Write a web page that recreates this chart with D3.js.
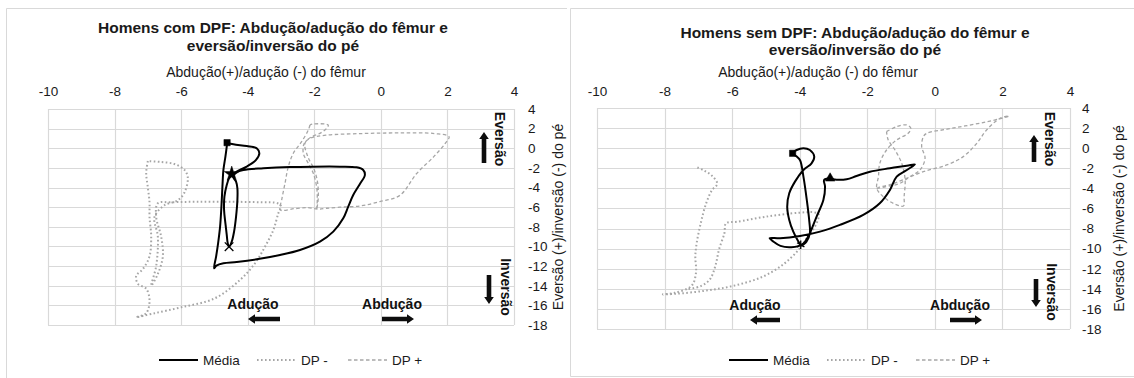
<!DOCTYPE html>
<html>
<head>
<meta charset="utf-8">
<script src="https://cdn.jsdelivr.net/npm/d3@7"></script>
<style>
  body { margin: 0; background: #fff; }
  svg { display: block; font-family: "Liberation Sans", Arial, sans-serif; }
</style>
</head>
<body>
<svg id="chart" width="1134" height="378"></svg>
<script>
/*
  two Excel-like xy charts: femur abduction vs foot eversion
*/

// axis ticks
var xTicks = [-10, -8, -6, -4, -2, 0, 2, 4];
var yTicks = [4, 2, 0, -2, -4, -6, -8, -10, -12, -14, -16, -18];

var titles = [
  ["Homens com DPF: Abdução/adução do fêmur e", "eversão/inversão do pé"],
  ["Homens sem DPF: Abdução/adução do fêmur e", "eversão/inversão do pé"]
];
var xTitle = "Abdução(+)/adução (-) do fêmur";
var yTitle = "Eversão (+)/inversão (-) do pé";
var seriesNames = ["Média", "DP -", "DP +"];

// left chart (com DPF) - [abdução, eversão]
var comMedia = [
  [-4.62,0.57],[-4.63,0.17],[-4.67,-0.85],[-4.73,-2.21],[-4.76,-3.91],[-4.79,-5.94],[-4.83,-7.98],
  [-4.89,-9.68],[-4.95,-11.04],[-5.01,-12.22],[-4.94,-11.95],[-4.73,-11.71],[-4.33,-11.58],[-3.73,-11.31],
  [-3.03,-10.87],[-2.43,-10.36],[-1.83,-9.51],[-1.43,-8.49],[-1.13,-7.13],[-0.98,-5.94],[-0.83,-4.76],
  [-0.63,-3.64],[-0.48,-2.72],[-0.53,-2.21],[-0.73,-1.94],[-1.23,-1.87],[-2.03,-1.87],[-2.73,-1.91],
  [-3.53,-2.04],[-4.13,-2.21],[-4.38,-2.48],[-4.48,-2.62],[-4.55,-2.96],[-4.63,-3.74],[-4.70,-4.93],
  [-4.71,-6.28],[-4.67,-7.64],[-4.63,-8.83],[-4.60,-9.68],[-4.56,-10.02],[-4.48,-9.51],[-4.41,-8.49],
  [-4.35,-6.96],[-4.31,-5.27],[-4.31,-4.08],[-4.35,-3.40],[-4.43,-2.96],[-4.40,-2.60],[-4.33,-2.38],
  [-4.03,-1.87],[-3.75,-1.19],[-3.65,-0.51],[-3.73,0.0],[-4.03,0.23],[-4.43,0.40],[-4.62,0.57]
];
var comDPmenos = [
  [-7.0,-1.3],[-7.05,-2.5],[-7.0,-4.0],[-6.95,-5.5],[-6.95,-7.0],[-6.9,-9.0],[-6.95,-11.0],[-7.15,-12.3],
  [-7.35,-13.0],[-7.3,-13.8],[-7.05,-14.3],[-6.95,-15.5],[-7.05,-16.8],[-7.35,-17.2],[-6.8,-16.8],
  [-6.0,-16.2],[-5.0,-15.3],[-4.23,-13.41],[-3.78,-11.71],[-3.48,-10.02],[-3.23,-8.32],[-3.08,-6.62],
  [-3.0,-5.9],[-3.1,-5.6],[-3.6,-5.5],[-4.5,-5.45],[-5.5,-5.45],[-6.3,-5.5],[-6.7,-5.6],[-6.75,-7.0],
  [-6.6,-9.0],[-6.55,-11.0],[-6.7,-12.8],[-6.9,-14.0],[-6.75,-12.0],[-6.7,-9.0],[-6.8,-7.0],[-6.5,-5.8],
  [-6.1,-5.3],[-5.9,-4.5],[-5.8,-3.0],[-5.9,-2.2],[-6.2,-1.6],[-6.6,-1.4],[-7.0,-1.3]
];
var comDPmais = [
  [-2.13,2.37],[-2.18,1.86],[-2.38,0.67],[-2.63,-0.51],[-2.78,-1.87],[-2.88,-3.57],[-2.98,-5.27],
  [-3.03,-6.28],[-2.6,-6.15],[-2.2,-6.05],[-1.9,-6.2],[-1.63,-6.11],[-1.23,-6.0],[-0.63,-5.88],
  [-0.03,-5.43],[0.57,-4.8],[1.07,-2.6],[1.61,-0.78],[1.94,0.52],[2.05,1.17],[1.61,1.5],[0.52,1.56],
  [-0.56,1.5],[-1.65,1.33],[-2.1,1.05],[-2.3,0.5],[-2.33,-0.51],[-2.18,-1.53],[-2.03,-2.55],
  [-1.93,-3.91],[-1.91,-5.27],[-1.93,-6.28],[-1.88,-5.0],[-1.9,-3.5],[-2.0,-2.2],[-2.2,-0.8],
  [-2.28,0.5],[-2.08,1.18],[-1.83,1.52],[-1.63,2.03],[-1.58,2.37],[-2.03,2.47],[-2.13,2.37]
];
var comMarkers = [
  {shape: "square", x: -4.62, y: 0.57},
  {shape: "star", x: -4.48, y: -2.62},
  {shape: "x", x: -4.56, y: -10.02}
];

// right chart (sem DPF)
var semMedia = [
  [-3.10,-3.0],[-3.01,-3.1],[-2.61,-3.1],[-2.32,-2.77],[-1.92,-2.34],[-1.33,-2.0],[-0.83,-1.74],
  [-0.59,-1.61],[-0.83,-2.17],[-1.13,-2.83],[-1.33,-4.16],[-1.63,-5.49],[-2.12,-6.65],[-2.81,-7.64],
  [-3.40,-8.31],[-3.99,-8.74],[-4.58,-8.97],[-4.89,-8.96],[-4.78,-9.29],[-4.57,-9.72],[-4.25,-9.85],
  [-3.98,-9.62],[-4.04,-9.3],[-4.19,-8.31],[-4.31,-7.14],[-4.37,-5.82],[-4.31,-4.49],[-4.14,-3.33],
  [-3.89,-2.17],[-3.65,-1.51],[-3.57,-0.84],[-3.70,-0.18],[-3.89,0.0],[-4.09,-0.18],[-4.21,-0.51],
  [-4.1,-0.8],[-3.99,-1.2],[-3.89,-2.83],[-3.79,-5.16],[-3.72,-7.15],[-3.70,-8.47],[-3.8,-9.3],
  [-3.95,-9.7],[-3.84,-9.3],[-3.70,-8.47],[-3.50,-6.81],[-3.30,-5.16],[-3.25,-3.83],[-3.28,-3.16],
  [-3.10,-3.0]
];
var semDPmenos = [
  [-7.03,-1.92],[-6.82,-2.24],[-6.6,-2.73],[-6.44,-3.54],[-6.6,-4.19],[-6.77,-5.5],[-6.93,-7.48],
  [-7.05,-9.45],[-7.09,-10.77],[-7.07,-12.41],[-7.2,-13.7],[-7.7,-14.4],[-8.05,-14.55],[-7.68,-14.5],
  [-6.82,-14.2],[-5.96,-13.7],[-5.1,-12.8],[-4.46,-11.5],[-4.03,-10.1],[-3.82,-9.1],[-3.5,-7.48],
  [-3.44,-6.6],[-3.55,-6.4],[-4.03,-6.43],[-5.0,-6.82],[-5.85,-7.32],[-6.18,-7.48],[-6.23,-8.47],
  [-6.39,-10.11],[-6.5,-11.76],[-6.66,-13.07],[-6.93,-13.73],[-7.35,-14.06]
];
var semDPmais = [
  [-1.43,1.65],[-1.13,2.14],[-0.83,2.31],[-0.71,1.98],[-0.79,1.48],[-1.13,0.82],[-1.43,-0.18],
  [-1.63,-1.51],[-1.67,-2.83],[-1.72,-3.99],[-1.53,-4.82],[-1.23,-5.49],[-0.93,-5.75],[-0.91,-4.82],
  [-0.88,-3.16],[-0.98,-1.51],[-1.18,-0.18],[-1.38,0.82],[-1.43,1.65],
  null,
  [-1.72,-3.99],[-1.33,-3.76],[-1.03,-3.5],[-0.74,-2.83],[-0.44,-2.17],[-0.29,-1.01],[-0.39,0.15],
  [-0.34,1.15],[-0.24,1.48],[0.36,1.89],[0.89,2.21],[1.5,2.6],[2.0,3.0],[2.2,3.2],[1.93,2.97],
  [1.53,1.81],[1.24,0.48],[0.84,-0.84],[0.35,-1.67],[-0.34,-2.34],[-0.84,-3.0],[-1.3,-3.6],[-1.67,-3.9]
];
var semMarkers = [
  {shape: "square", x: -4.21, y: -0.51},
  {shape: "triangle", x: -3.10, y: -3.0},
  {shape: "asterisk", x: -3.97, y: -9.62}
];

// layout of the two panels (pixels)
var panels = [
  {
    plot: {x0: 48, x1: 514, y0: 109, y1: 325},
    frame: "M6.5,400V8.5H567",
    titleX: 273, titleY: [33, 51], xTitleY: 77, xTitleX: 266,
    yLabelX: 528, yTitleX: 558,
    eversao: {x: 500, y: 139}, up: {x: 484, y0: 163, y1: 132},
    inversao: {x: 506, y: 287}, down: {x: 489, y0: 275, y1: 304},
    aducao: {x: 253, y: 304}, left: {x0: 280, x1: 248, y: 319},
    abducao: {x: 392, y: 304}, right: {x0: 382, x1: 414, y: 319},
    legend: [159, 257, 348],
    series: [comMedia, comDPmenos, comDPmais], markers: comMarkers, title: titles[0]
  },
  {
    plot: {x0: 597, x1: 1070, y0: 108, y1: 329},
    frame: "M1140,8.5H570.5V376.5H1140",
    titleX: 855, titleY: [38, 55], xTitleY: 77, xTitleX: 818,
    yLabelX: 1082, yTitleX: 1119,
    eversao: {x: 1050, y: 139}, up: {x: 1034, y0: 162, y1: 135},
    inversao: {x: 1052, y: 292}, down: {x: 1036, y0: 279, y1: 307},
    aducao: {x: 755, y: 305}, left: {x0: 780, x1: 750, y: 320},
    abducao: {x: 960, y: 305}, right: {x0: 950, x1: 982, y: 320},
    legend: [729, 827, 916],
    series: [semMedia, semDPmenos, semDPmais], markers: semMarkers, title: titles[1]
  }
];

var styles = [
  {stroke: "#000", width: 2, dash: null},
  {stroke: "#a6a6a6", width: 2, dash: "1.6,2.4"},
  {stroke: "#a6a6a6", width: 1.3, dash: "3.5,2.5"}
];

var svg = d3.select("#chart");
svg.append("rect").attr("width", 1134).attr("height", 378).attr("fill", "#fff");

// block arrow as polygon
function arrow(g, x0, y0, x1, y1) {
  var dx = x1 - x0, dy = y1 - y0, len = Math.sqrt(dx * dx + dy * dy);
  var ux = dx / len, uy = dy / len, px = -uy, py = ux;
  var sw = 2.3, hw = 4.8, hl = 7;
  var bx = x1 - ux * hl, by = y1 - uy * hl;
  var pts = [
    [x0 + px * sw, y0 + py * sw], [bx + px * sw, by + py * sw], [bx + px * hw, by + py * hw],
    [x1, y1], [bx - px * hw, by - py * hw], [bx - px * sw, by - py * sw], [x0 - px * sw, y0 - py * sw]
  ];
  g.append("polygon").attr("points", pts.map(function(p) { return p.join(","); }).join(" "))
    .attr("fill", "#0d0d0d");
}

// plain hyphen for negative labels, like the original
function fmt(d) { return String(d); }

panels.forEach(function(p) {
  var g = svg.append("g");

  g.append("path").attr("d", p.frame)
    .attr("fill", "none").attr("stroke", "#d9d9d9");

  var x = d3.scaleLinear().domain([-10, 4]).range([p.plot.x0, p.plot.x1]);
  var y = d3.scaleLinear().domain([-18, 4]).range([p.plot.y1, p.plot.y0]);

  // grid
  g.append("g").selectAll("line").data(xTicks).enter().append("line")
    .attr("x1", function(d) { return Math.round(x(d)) + 0.5; })
    .attr("x2", function(d) { return Math.round(x(d)) + 0.5; })
    .attr("y1", p.plot.y0).attr("y2", p.plot.y1)
    .attr("stroke", "#d9d9d9").attr("stroke-width", 1.2);
  g.append("g").selectAll("line").data(yTicks).enter().append("line")
    .attr("y1", function(d) { return Math.round(y(d)) + 0.5; })
    .attr("y2", function(d) { return Math.round(y(d)) + 0.5; })
    .attr("x1", p.plot.x0).attr("x2", p.plot.x1)
    .attr("stroke", "#d9d9d9").attr("stroke-width", 1.2);

  // axes: top x, right y (labels only, like Excel)
  var xAxis = d3.axisTop(x).tickValues(xTicks).tickFormat(fmt).tickSize(0).tickPadding(0);
  var ax = g.append("g").attr("transform", "translate(0,96)").call(xAxis);
  ax.select(".domain").remove();
  ax.selectAll("text").attr("font-size", 13.5).attr("fill", "#1a1a1a")
    .attr("font-family", "Liberation Sans, Arial, sans-serif");

  var yAxis = d3.axisRight(y).tickValues(yTicks).tickFormat(fmt).tickSize(0).tickPadding(0);
  var ay = g.append("g").attr("transform", "translate(" + p.yLabelX + ",0)").call(yAxis);
  ay.select(".domain").remove();
  ay.selectAll("text").attr("font-size", 13.5).attr("fill", "#1a1a1a")
    .attr("font-family", "Liberation Sans, Arial, sans-serif");

  // titles
  p.title.forEach(function(t, i) {
    g.append("text").attr("x", p.titleX).attr("y", p.titleY[i])
      .attr("text-anchor", "middle").attr("font-size", 15.5).attr("font-weight", "bold")
      .attr("fill", "#1a1a1a").text(t);
  });
  g.append("text").attr("x", p.xTitleX).attr("y", p.xTitleY)
    .attr("text-anchor", "middle").attr("font-size", 14).attr("fill", "#1a1a1a").text(xTitle);
  g.append("text")
    .attr("transform", "translate(" + p.yTitleX + "," + ((p.plot.y0 + p.plot.y1) / 2) + ") rotate(-90)")
    .attr("text-anchor", "middle").attr("dy", "0.35em")
    .attr("font-size", 14).attr("fill", "#1a1a1a").text(yTitle);

  // series
  var line = d3.line()
    .defined(function(d) { return d != null; })
    .x(function(d) { return x(d[0]); })
    .y(function(d) { return y(d[1]); })
    .curve(d3.curveCatmullRom.alpha(0.5));

  [2, 1, 0].forEach(function(i) {
    var s = styles[i];
    g.append("path").datum(p.series[i])
      .attr("d", line)
      .attr("fill", "none")
      .attr("stroke", s.stroke)
      .attr("stroke-width", s.width)
      .attr("stroke-dasharray", s.dash)
      .attr("stroke-linejoin", "round");
  });

  // markers
  var shapes = {
    square: d3.symbolSquare, star: d3.symbolStar, triangle: d3.symbolTriangle,
    x: d3.symbolX || d3.symbolTimes || d3.symbolCross, asterisk: d3.symbolAsterisk || d3.symbolCross
  };
  p.markers.forEach(function(m) {
    var stroked = (m.shape == "x" || m.shape == "asterisk");
    g.append("path")
      .attr("d", d3.symbol().type(shapes[m.shape]).size(m.shape == "star" ? 70 : (stroked ? 50 : 40))())
      .attr("transform", "translate(" + x(m.x) + "," + y(m.y) + ")")
      .attr("fill", stroked ? "none" : "#000")
      .attr("stroke", "#000").attr("stroke-width", stroked ? 1.3 : 0.5);
  });

  // annotations
  g.append("text")
    .attr("transform", "translate(" + p.eversao.x + "," + p.eversao.y + ") rotate(90)")
    .attr("text-anchor", "middle").attr("dy", "0.35em")
    .attr("font-size", 14).attr("font-weight", "bold").attr("fill", "#111").text("Eversão");
  g.append("text")
    .attr("transform", "translate(" + p.inversao.x + "," + p.inversao.y + ") rotate(90)")
    .attr("text-anchor", "middle").attr("dy", "0.35em")
    .attr("font-size", 14).attr("font-weight", "bold").attr("fill", "#111").text("Inversão");
  g.append("text").attr("x", p.aducao.x).attr("y", p.aducao.y).attr("dy", "0.35em")
    .attr("text-anchor", "middle").attr("font-size", 14).attr("font-weight", "bold")
    .attr("fill", "#111").text("Adução");
  g.append("text").attr("x", p.abducao.x).attr("y", p.abducao.y).attr("dy", "0.35em")
    .attr("text-anchor", "middle").attr("font-size", 14).attr("font-weight", "bold")
    .attr("fill", "#111").text("Abdução");
  arrow(g, p.up.x, p.up.y0, p.up.x, p.up.y1);
  arrow(g, p.down.x, p.down.y0, p.down.x, p.down.y1);
  arrow(g, p.left.x0, p.left.y, p.left.x1, p.left.y);
  arrow(g, p.right.x0, p.right.y, p.right.x1, p.right.y);

  // legend
  seriesNames.forEach(function(name, i) {
    var lx = p.legend[i], s = styles[i];
    g.append("line").attr("x1", lx).attr("x2", lx + 39).attr("y1", 360).attr("y2", 360)
      .attr("stroke", s.stroke).attr("stroke-width", s.width).attr("stroke-dasharray", s.dash);
    g.append("text").attr("x", lx + 44).attr("y", 360).attr("dy", "0.35em")
      .attr("font-size", 13.5).attr("fill", "#1a1a1a").text(name);
  });
});
</script>
</body>
</html>
